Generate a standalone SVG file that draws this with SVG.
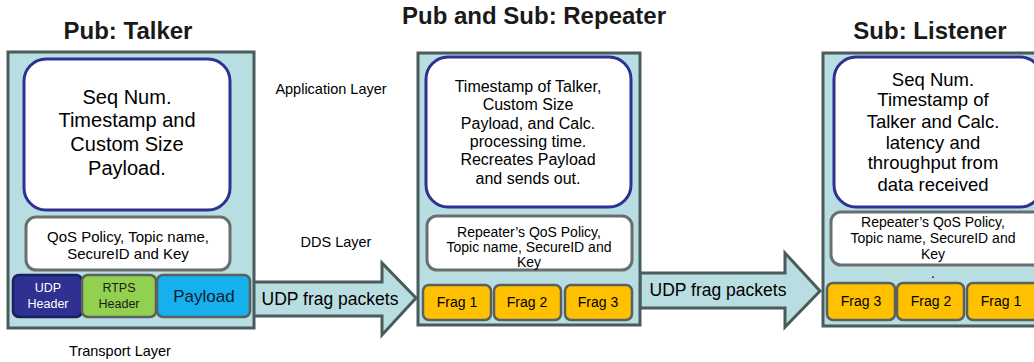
<svg xmlns="http://www.w3.org/2000/svg" width="1034" height="362" viewBox="0 0 1034 362">
  <style>
    text { font-family: "Liberation Sans", Arial, sans-serif; fill: #000; text-anchor: middle; }
    .title { font-size: 24px; font-weight: bold; fill: #1a1a1a; }
    .layer { font-size: 14.5px; }
    .panel { fill: #B9DEE2; stroke: #4A5B5B; stroke-width: 3; }
    .app { fill: #fff; stroke: #2E3192; stroke-width: 3; }
    .qos { fill: #fff; stroke: #6B6E6E; stroke-width: 3; }
    .frag { fill: #FFC000; stroke: #5A5F5F; stroke-width: 2.5; }
    .arrow { fill: #B9DEE2; stroke: #4A5B5B; stroke-width: 3; stroke-linejoin: miter; }
    .big { font-size: 20px; }
    .mid { font-size: 16px; }
    .lst { font-size: 18.5px; }
    .small { font-size: 15px; }
    .tiny { font-size: 14px; }
    .hdr { font-size: 12.5px; }
    .fragt { font-size: 14px; }
    .pkt { font-size: 17.5px; }
  </style>

  <!-- Layer captions -->
  <text class="layer" x="331" y="94">Application Layer</text>
  <text class="layer" x="336" y="247">DDS Layer</text>
  <text class="layer" x="120" y="356">Transport Layer</text>

  <!-- Titles -->
  <text class="title" x="128" y="39">Pub: Talker</text>
  <text class="title" x="534" y="24">Pub and Sub: Repeater</text>
  <text class="title" x="930" y="39">Sub: Listener</text>

  <!-- Connectors -->
  <g id="connectors">
    <g id="arrow-talker-repeater">
      <polygon class="arrow" points="252,282 382,282 382,263 416,298 382,335 382,316 252,316"/>
      <text class="pkt" x="330" y="305">UDP frag packets</text>
    </g>
    <g id="arrow-repeater-listener">
      <polygon class="arrow" points="640,273 785,273 785,253 820,291 785,327 785,308 640,308"/>
      <text class="pkt" x="718" y="296">UDP frag packets</text>
    </g>
  </g>

  <!-- Talker -->
  <g id="talker">
    <rect class="panel" x="8" y="52" width="246" height="276"/>
    <rect class="app" x="24" y="59" width="206" height="151" rx="22"/>
    <text class="big" x="127" y="104">Seq Num.</text>
    <text class="big" x="127" y="127">Timestamp and</text>
    <text class="big" x="127" y="151">Custom Size</text>
    <text class="big" x="127" y="175">Payload.</text>
    <rect class="qos" x="26" y="217" width="204" height="53" rx="10"/>
    <text class="small" x="128" y="242">QoS Policy, Topic name,</text>
    <text class="small" x="128" y="259">SecureID and Key</text>
    <g id="udp-header">
      <rect x="13" y="275" width="69" height="42" rx="6" fill="#2E3192" stroke="#1C1F5E" stroke-width="2.5"/>
      <text class="hdr" x="48" y="292" style="fill:#fff">UDP</text>
      <text class="hdr" x="48" y="308" style="fill:#fff">Header</text>
    </g>
    <g id="rtps-header">
      <rect x="82" y="275" width="74" height="42" rx="6" fill="#92D050" stroke="#5A5F5F" stroke-width="2.5"/>
      <text class="hdr" x="119" y="292" style="fill:#1a1a1a">RTPS</text>
      <text class="hdr" x="119" y="308" style="fill:#1a1a1a">Header</text>
    </g>
    <g id="payload">
      <rect x="157" y="275" width="93" height="42" rx="6" fill="#16B0EC" stroke="#5A5F5F" stroke-width="2.5"/>
      <text x="204" y="302" style="font-size:17px; fill:#0d1a33">Payload</text>
    </g>
  </g>

  <!-- Repeater -->
  <g id="repeater">
    <rect class="panel" x="418" y="53" width="222" height="272"/>
    <rect class="app" x="426" y="57" width="205" height="150" rx="22"/>
    <text class="mid" x="528" y="92">Timestamp of Talker,</text>
    <text class="mid" x="528" y="110">Custom Size</text>
    <text class="mid" x="528" y="129">Payload, and Calc.</text>
    <text class="mid" x="528" y="147">processing time.</text>
    <text class="mid" x="528" y="165">Recreates Payload</text>
    <text class="mid" x="528" y="184">and sends out.</text>
    <rect class="qos" x="427" y="216" width="205" height="54" rx="10"/>
    <text class="tiny" x="529" y="237">Repeater’s QoS Policy,</text>
    <text class="tiny" x="529" y="252">Topic name, SecureID and</text>
    <text class="tiny" x="529" y="267">Key</text>
    <rect class="frag" x="423" y="285" width="68" height="35" rx="6"/>
    <text class="fragt" x="457" y="307">Frag 1</text>
    <rect class="frag" x="494" y="285" width="67" height="35" rx="6"/>
    <text class="fragt" x="527" y="307">Frag 2</text>
    <rect class="frag" x="565" y="285" width="67" height="35" rx="6"/>
    <text class="fragt" x="598" y="307">Frag 3</text>
  </g>

  <!-- Listener -->
  <g id="listener">
    <rect class="panel" x="823" y="53" width="222" height="273"/>
    <rect class="app" x="834" y="57" width="208" height="150" rx="22"/>
    <text class="lst" x="933" y="86">Seq Num.</text>
    <text class="lst" x="933" y="106">Timestamp of</text>
    <text class="lst" x="933" y="128">Talker and Calc.</text>
    <text class="lst" x="933" y="149">latency and</text>
    <text class="lst" x="933" y="169">throughput from</text>
    <text class="lst" x="933" y="191">data received</text>
    <rect class="qos" x="831" y="212" width="212" height="53" rx="10"/>
    <text class="tiny" x="933" y="227">Repeater’s QoS Policy,</text>
    <text class="tiny" x="933" y="243">Topic name, SecureID and</text>
    <text class="tiny" x="933" y="259">Key</text>
    <text class="tiny" x="933" y="278">.</text>
    <rect class="frag" x="827" y="283" width="68" height="37" rx="6"/>
    <text class="fragt" x="861" y="306">Frag 3</text>
    <rect class="frag" x="897" y="283" width="67" height="37" rx="6"/>
    <text class="fragt" x="931" y="306">Frag 2</text>
    <rect class="frag" x="967" y="283" width="75" height="37" rx="6"/>
    <text class="fragt" x="1001" y="306">Frag 1</text>
  </g>
</svg>
